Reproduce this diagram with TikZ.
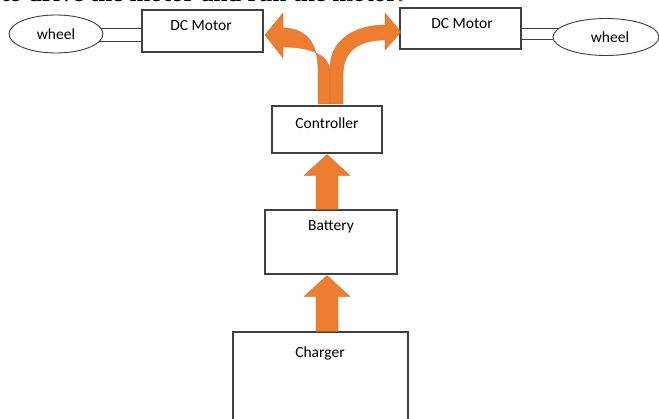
\documentclass[tikz,border=0pt]{standalone}
\usepackage{fontspec}
\setmainfont{Carlito}
\newfontfamily\tnr{Liberation Serif}
\usetikzlibrary{shapes.geometric,calc}
\definecolor{arrorange}{HTML}{ED7D31}
\definecolor{edgegray}{HTML}{404040}
\tikzset{
  box/.style={draw=edgegray, line width=1.1pt, fill=white, inner sep=0pt},
  wheelnode/.style={ellipse, draw=edgegray, line width=0.9pt, inner sep=0pt, font=\fontsize{15.5}{17}\selectfont},
  lbl/.style={font=\fontsize{15.5}{17}\selectfont, inner sep=0pt},
  axle/.style={draw=edgegray, line width=0.9pt},
  blockarr/.style={fill=arrorange, draw=arrorange!85!black, line width=0.3pt},
}
\begin{document}
\begin{tikzpicture}[x=1pt,y=-1pt]
\useasboundingbox (0,0) rectangle (659,419);
\clip (0,0) rectangle (659,419);
\fill[white] (0,0) rectangle (659,419);

% cut-off caption line at the top
\node[anchor=base east, inner sep=0pt, font=\tnr\bfseries\fontsize{25}{28}\selectfont] (cap) at (404,1.8) {to drive the motor and run the motor\textcolor{red}{.}};

% boxes
\node[box, minimum width=121pt, minimum height=42pt] (lmotor) at (202.5,31) {};
\node[box, minimum width=121pt, minimum height=41pt] (rmotor) at (460.5,28.5) {};
\node[box, minimum width=110pt, minimum height=47pt] (ctrl) at (327,129.5) {};
\node[box, minimum width=132pt, minimum height=64pt] (batt) at (331,242) {};
\node[box, minimum width=175pt, minimum height=100pt] (chg) at (320.5,382) {};

% box texts
\node[lbl] (tlmotor) at (201,26) {DC Motor};
\node[lbl] (trmotor) at (462,24) {DC Motor};
\node[lbl] (tctrl) at (327,123) {Controller};
\node[lbl] (tbatt) at (331,227) {Battery};
\node[lbl] (tchg) at (320,353) {Charger};

% wheels
\node[wheelnode, minimum width=94pt, minimum height=38pt] (lwheel) at (56,34) {wheel};
\node[wheelnode, minimum width=106pt, minimum height=37pt] (rwheel) at (606,37) {\hspace*{8pt}wheel};

% axles
\draw[axle] (lwheel.7.7) -- (lwheel.7.7 -| lmotor.west);
\draw[axle] (lwheel.-10.6) -- (lwheel.-10.6 -| lmotor.west);
\draw[axle] (rwheel.170.5) -- (rwheel.170.5 -| rmotor.east);
\draw[axle] (rwheel.-177.8) -- (rwheel.-177.8 -| rmotor.east);

% straight block arrows
\coordinate (a1tip) at (ctrl.south |- ctrl.south);
\coordinate (a1base) at (ctrl.south |- batt.north);
\coordinate (a2tip) at (ctrl.south |- batt.south);
\coordinate (a2base) at (ctrl.south |- chg.north);
\foreach \t/\b in {a1tip/a1base, a2tip/a2base}{
  \path[blockarr] ($(\b)+(-11,0)$) -- ($(\t)+(-11,22)$) -- ($(\t)+(-23,22)$) -- ($(\t)+(0,1)$)
    -- ($(\t)+(23,22)$) -- ($(\t)+(11,22)$) -- ($(\b)+(11,0)$) -- cycle;
}

% curved block arrows from controller to motors
\path[blockarr] (318,104) -- (318,70) .. controls (318,42) and (305,28) .. (283,28)
  -- (283,13) -- (265,35) -- (283,58) -- (283,47)
  .. controls (310,47) and (330,55) .. (330,72) -- (330,104) -- cycle;
\path[blockarr] (330,104) -- (330,68) .. controls (330,40) and (355,25) .. (385,25)
  -- (385,13) -- (401,32) -- (385,50) -- (385,40)
  .. controls (360,40) and (343,50) .. (343,75) -- (343,104) -- cycle;
\end{tikzpicture}
\end{document}
